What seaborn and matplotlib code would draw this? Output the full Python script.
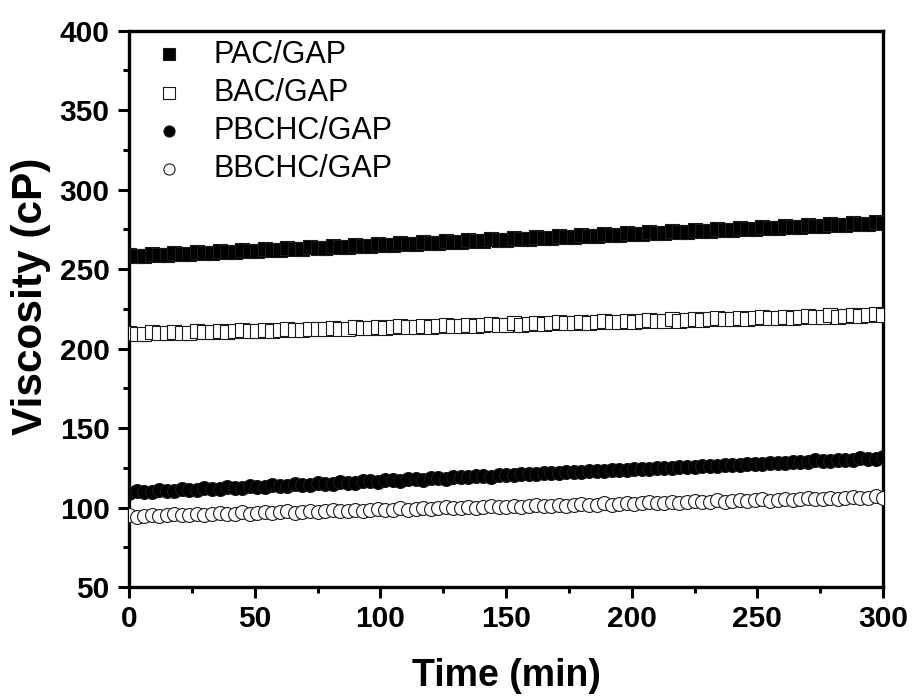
import numpy as np
import pandas as pd
import seaborn as sns
import matplotlib
matplotlib.use("Agg")
import matplotlib.pyplot as plt
from matplotlib.ticker import MultipleLocator

# sampling every 3 min over 0-300 min
time_min = list(range(0, 301, 3))

pac_gap = [
    259.1, 258.5, 258.5, 259.7, 259.1, 259.1, 260.3, 259.7, 259.7, 260.9,
    260.4, 260.4, 261.6, 261.0, 261.0, 262.2, 261.6, 261.6, 262.8, 262.2,
    262.2, 263.4, 262.8, 262.8, 264.0, 263.4, 263.4, 264.6, 264.0, 264.0,
    265.3, 264.7, 264.7, 265.9, 265.3, 265.3, 266.5, 265.9, 265.9, 267.1,
    266.5, 266.5, 267.7, 267.1, 267.1, 268.3, 267.7, 267.7, 268.9, 268.3,
    268.4, 269.6, 269.0, 269.0, 270.2, 269.6, 269.6, 270.8, 270.2, 270.2,
    271.4, 270.8, 270.8, 272.0, 271.4, 271.4, 272.6, 272.0, 272.0, 273.2,
    272.7, 272.7, 273.9, 273.3, 273.3, 274.5, 273.9, 273.9, 275.1, 274.5,
    274.5, 275.7, 275.1, 275.1, 276.3, 275.7, 275.7, 276.9, 276.3, 276.3,
    277.6, 277.0, 277.0, 278.2, 277.6, 277.6, 278.8, 278.2, 278.2, 279.4,
    278.8,
]
bac_gap = [
    209.8, 209.1, 209.4, 210.2, 209.5, 209.8, 210.5, 209.8, 210.1, 210.9,
    210.2, 210.5, 211.2, 210.5, 210.9, 211.6, 210.9, 211.2, 211.9, 211.2,
    211.6, 212.3, 211.6, 211.9, 212.6, 212.0, 212.3, 213.0, 212.3, 212.6,
    213.3, 212.7, 213.0, 213.7, 213.0, 213.3, 214.1, 213.4, 213.7, 214.4,
    213.7, 214.0, 214.8, 214.1, 214.4, 215.1, 214.4, 214.8, 215.5, 214.8,
    215.1, 215.8, 215.1, 215.5, 216.2, 215.5, 215.8, 216.5, 215.8, 216.2,
    216.9, 216.2, 216.5, 217.2, 216.6, 216.9, 217.6, 216.9, 217.2, 217.9,
    217.3, 217.6, 218.3, 217.6, 217.9, 218.7, 218.0, 218.3, 219.0, 218.3,
    218.6, 219.4, 218.7, 219.0, 219.7, 219.0, 219.4, 220.1, 219.4, 219.7,
    220.4, 219.7, 220.1, 220.8, 220.1, 220.4, 221.1, 220.5, 220.8, 221.5,
    220.8,
]
pbchc_gap = [
    109.2, 110.2, 109.9, 109.8, 110.9, 110.6, 110.5, 111.5, 111.2, 111.1,
    112.2, 111.9, 111.8, 112.8, 112.5, 112.4, 113.4, 113.2, 113.1, 114.1,
    113.8, 113.7, 114.7, 114.4, 114.4, 115.4, 115.1, 115.0, 116.0, 115.7,
    115.7, 116.7, 116.4, 116.3, 117.3, 117.0, 116.9, 118.0, 117.7, 117.6,
    118.6, 118.3, 118.2, 119.2, 119.0, 118.9, 119.9, 119.6, 119.5, 120.5,
    120.3, 120.2, 121.2, 120.9, 120.8, 121.8, 121.5, 121.5, 122.5, 122.2,
    122.1, 123.1, 122.8, 122.7, 123.8, 123.5, 123.4, 124.4, 124.1, 124.0,
    125.1, 124.8, 124.7, 125.7, 125.4, 125.3, 126.3, 126.1, 126.0, 127.0,
    126.7, 126.6, 127.6, 127.3, 127.3, 128.3, 128.0, 127.9, 128.9, 128.6,
    128.6, 129.6, 129.3, 129.2, 130.2, 129.9, 129.8, 130.9, 130.6, 130.5,
    131.5,
]
bbchc_gap = [
    95.1, 94.3, 94.7, 95.5, 94.7, 95.1, 95.8, 95.0, 95.5, 96.2,
    95.4, 95.8, 96.5, 95.8, 96.2, 96.9, 96.1, 96.5, 97.3, 96.5,
    96.9, 97.6, 96.8, 97.3, 98.0, 97.2, 97.6, 98.3, 97.6, 98.0,
    98.7, 97.9, 98.3, 99.1, 98.3, 98.7, 99.4, 98.6, 99.1, 99.8,
    99.0, 99.4, 100.1, 99.4, 99.8, 100.5, 99.7, 100.1, 100.9, 100.1,
    100.5, 101.2, 100.4, 100.9, 101.6, 100.8, 101.2, 101.9, 101.2, 101.6,
    102.3, 101.5, 101.9, 102.7, 101.9, 102.3, 103.0, 102.2, 102.7, 103.4,
    102.6, 103.0, 103.7, 103.0, 103.4, 104.1, 103.3, 103.7, 104.5, 103.7,
    104.1, 104.8, 104.0, 104.5, 105.2, 104.4, 104.8, 105.5, 104.8, 105.2,
    105.9, 105.1, 105.5, 106.3, 105.5, 105.9, 106.6, 105.8, 106.3, 107.0,
    106.2,
]

series_names = ["PAC/GAP", "BAC/GAP", "PBCHC/GAP", "BBCHC/GAP"]
series_values = [pac_gap, bac_gap, pbchc_gap, bbchc_gap]
series_markers = ["s", "s", "o", "o"]
series_faces = ["black", "white", "black", "white"]

x_ticks = [0, 50, 100, 150, 200, 250, 300]
y_ticks = [50, 100, 150, 200, 250, 300, 350, 400]

sns.set_style("ticks")
plt.rcParams["font.family"] = ["Liberation Sans", "DejaVu Sans"]
for key in ["text.color", "axes.labelcolor", "xtick.color", "ytick.color", "axes.edgecolor"]:
    plt.rcParams[key] = "black"

fig = plt.figure(figsize=(9.17, 6.96), dpi=100)
ax = fig.add_axes([0.1407, 0.1566, 0.8223, 0.7994])

for name, vals, mk, fc in zip(series_names, series_values, series_markers, series_faces):
    df = pd.DataFrame({"Time": time_min, "Viscosity": vals})
    sns.scatterplot(data=df, x="Time", y="Viscosity", ax=ax, marker=mk,
                    s=100, color=fc, edgecolor="#1a1a1a", linewidth=0.8,
                    label=name, zorder=3)

ax.set_xlim(0, 300)
ax.set_ylim(50, 400)
ax.set_xticks(x_ticks)
ax.set_yticks(y_ticks)
ax.xaxis.set_minor_locator(MultipleLocator(25))
ax.yaxis.set_minor_locator(MultipleLocator(25))
ax.tick_params(axis="both", which="major", direction="out", length=8, width=2.2,
               labelsize=21.5)
ax.tick_params(axis="x", which="major", pad=5)
ax.tick_params(axis="y", which="major", pad=6)
ax.tick_params(axis="both", which="minor", direction="out", length=4.5, width=2.2)
for lbl in ax.get_xticklabels() + ax.get_yticklabels():
    lbl.set_fontweight("bold")

for sp in ax.spines.values():
    sp.set_linewidth(2.4)
    sp.set_visible(True)

ax.set_xlabel("Time (min)", fontsize=27, fontweight="bold")
ax.set_ylabel("Viscosity (cP)", fontsize=30.5, fontweight="bold")
ax.xaxis.set_label_coords(0.5, -0.128)
ax.yaxis.set_label_coords(-0.104, 0.523)

leg = ax.legend(loc="upper left", frameon=False, fontsize=22,
                handlelength=1.84, handletextpad=0.52, labelspacing=0.27,
                borderaxespad=0.0, markerscale=0.8,
                bbox_to_anchor=(0.0, 1.006))

fig.savefig("out.png", dpi=100)
